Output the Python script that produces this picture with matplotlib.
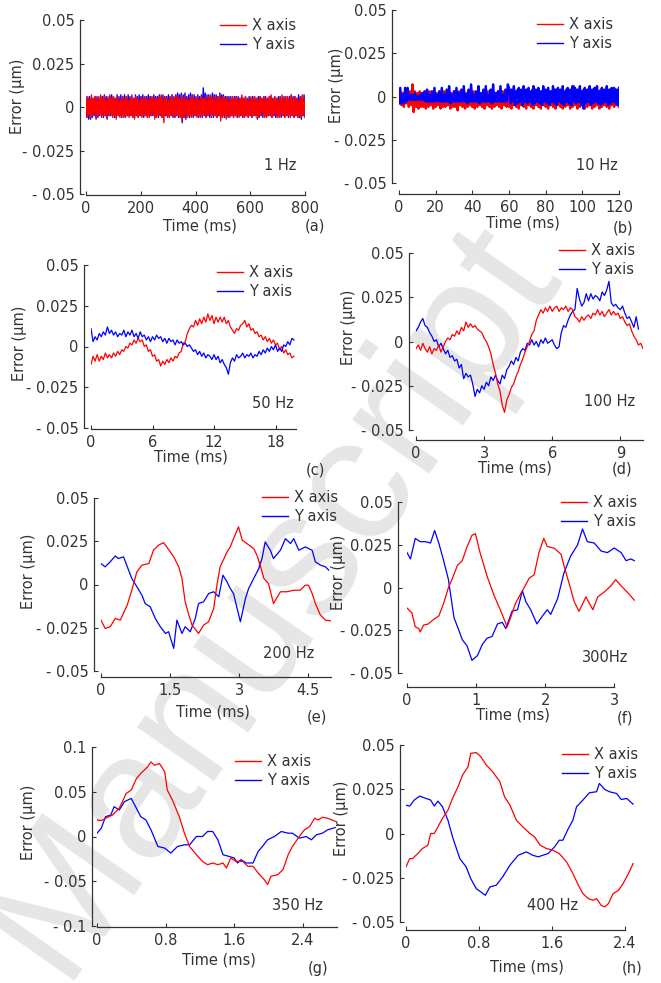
import numpy as np
import matplotlib
matplotlib.use('Agg')
import matplotlib.pyplot as plt

W, H = 661, 983
RED = '#ff0000'
BLUE = '#0000ff'
INK = '#333333'

plt.rcParams['font.family'] = 'DejaVu Sans'

# ---------------- data: errors in nm (1 nm = 0.001 um), times in ms ----------------
# (a) 1 Hz, 0-800 ms
X_1HZ = [5, -6, 6, -5, 4, -6, 7, -5, 5, -4, 6, -6, 5, -5, 6, -4, 7, -6, 5, -5,
         6, -5, 4, -6, 6, -5, 7, -4, 5, -6, 6, -5, 5, -7, 6, -5, 4, -6, 5, -5,
         6, -6, 5, -6, 6, -5, 4, -6, 5, -5, 7, -6, 5, -7, 6, -5, 5, -6, 4, -5,
         6, -6, 5, -5, 6, -5, 5, -6, 4, -6, 6, -5, 5, -4, 6, -7, 5, -6, 5, -5,
         6, -5, 7, -6, 5, -9, 6, -4, 5, -6, 4, -6, 6, -5, 7, -5, 5, -6, 6, -5,
         6, -5, 5, -6, 7, -8, 5, -6, 6, -5, 5, -6, 4, -5, 6, -6, 7, -5, 5, -5,
         5, -6, 6, -5, 4, -6, 7, -5, 5, -4, 6, -6, 5, -5, 6, -4, 7, -6, 5, -5,
         6, -5, 5, -6, 6, -5, 7, -8, 5, -6, 6, -5, 5, -7, 6, -5, 4, -6, 5, -5,
         6, -6, 5, -5, 6, -5, 4, -6, 5, -5, 7, -6, 5, -6, 6, -5, 5, -6, 4, -5,
         6, -6, 5, -5, 6, -5, 5, -6, 4, -6, 6, -5, 5, -4, 6, -6, 5, -6, 5, -5,
         6, -5, 7, -6, 5, -5, 6, -4, 5, -6, 4, -6, 6, -5, 7, -5, 5, -6, 6, -5,
         6, -5, 5, -6, 7, -5, 5, -6, 6, -5, 5, -6, 4, -5, 6, -6, 7, -5, 5, -5]
Y_1HZ = [6, -6, 5, -7, 6, -7, 5, -6, 5, -5, 6, -7, 6, -6, 5, -5, 6, -5, 6, -6,
         7, -5, 6, -7, 5, -5, 6, -5, 7, -5, 6, -6, 5, -6, 7, -5, 6, -5, 7, -6,
         6, -5, 7, -6, 6, -5, 7, -5, 6, -5, 6, -6, 5, -6, 7, -5, 6, -6, 7, -5,
         6, -5, 7, -6, 6, -5, 6, -6, 7, -5, 6, -5, 6, -5, 7, -6, 6, -5, 6, -6,
         7, -5, 6, -6, 7, -5, 6, -5, 6, -6, 7, -5, 6, -5, 7, -6, 6, -6, 7, -5,
         8, -6, 7, -6, 8, -9, 7, -6, 8, -7, 6, -5, 7, -6, 8, -5, 7, -6, 7, -5,
         6, -5, 7, -6, 6, -5, 7, -6, 11, -5, 8, -6, 7, -5, 7, -6, 6, -5, 8, -6,
         7, -5, 7, -6, 6, -5, 8, -6, 7, -5, 7, -6, 6, -5, 6, -6, 6, -5, 6, -5,
         5, -6, 6, -5, 6, -6, 6, -5, 5, -5, 6, -6, 5, -6, 6, -5, 5, -6, 6, -5,
         5, -6, 6, -5, 6, -5, 5, -7, 6, -6, 6, -5, 5, -6, 6, -5, 6, -6, 5, -5,
         6, -5, 6, -6, 5, -5, 6, -6, 5, -6, 6, -5, 6, -6, 5, -5, 6, -6, 6, -5,
         5, -6, 6, -5, 7, -5, 6, -6, 6, -5, 5, -6, 7, -6, 6, -7, 6, -5, 7, -6]
T_1HZ = np.linspace(0, 800, len(X_1HZ))

# (b) 10 Hz, 0-120 ms
X_10HZ = [-3, 3, -5, 2, -6, 3, -4, 4, -6, 3, -5, 7, -9, 3, -6, 2, -7, 3, -6, 2,
          -6, 3, -7, 2, -6, 3, -5, 2, -7, 3, -6, 2, -5, 3, -7, 2, -6, 3, -6, 2,
          -5, 3, -7, 2, -6, 3, -6, 2, -8, 3, -5, 2, -6, 3, -7, 2, -6, 3, -5, 2,
          -6, 3, -7, 2, -6, 3, -5, 2, -6, 3, -7, 2, -5, 3, -6, 2, -7, 3, -6, 2,
          -5, 3, -6, 2, -7, 3, -5, 2, -6, 3, -6, 2, -7, 3, -5, 2, -6, 4, -7, 3,
          -5, 2, -6, 3, -7, 2, -5, 3, -6, 4, -7, 2, -5, 3, -6, 2, -7, 3, -5, 4,
          -6, 3, -7, 2, -5, 3, -6, 4, -7, 2, -5, 3, -6, 3, -7, 2, -6, 4, -5, 3,
          -7, 2, -6, 6, -5, 3, -7, 2, -6, 3, -5, 4, -7, 2, -6, 3, -5, 2, -7, 3,
          -6, 2, -5, 3, -7, 4, -6, 2, -5, 3, -6, 2, -7, 3, -5, 2, -6, 4, -5, 3, -6]
Y_10HZ = [-4, 5, -4, 1, -4, 5, -3, 5, -2, 1, -2, 1, -2, 2,
          -2, 0, -2, 1, -2, 2, -2, 3, -3, 4,
          -3, 1, -3, 3, -3, 5,
          -3, 1, -3, 3, -3, 5, -3, 1, -3, 4, -3, 6, -4, 1, -3, 3, -3, 5,
          -3, 2, -3, 4, -3, 6, -3, 1, -4, 4, -3, 7, -3, 1, -3, 3, -3, 6,
          -4, 2, -3, 4, -3, 6, -3, 1, -3, 4, -4, 7, -3, 2, -3, 3, -3, 6,
          -3, 1, -3, 4, -3, 7,
          5, -4, 4, -3, 6, -5, 3, -4, 5, -3, 4, -5, 6, -3, 4, -4, 5, -3, 3, -5,
          6, -4, 4, -3, 5, -4, 3, -5, 6, -3, 4, -4, 5, -5, 3, -3, 6, -4, 4, -5,
          5, -3, 4, -4, 6, -5, 3, -3, 5, -4, 4, -5, 6, -3, 5, -4, 4, -3, 6, -5,
          3, -7, 5, -4, 4, -3, 6, -5, 4, -4, 5, -3, 6, -4, 3, -5, 5, -4, 4, -3,
          6, -5, 4, -4, 5, -3, 5, -4, 4, -5, 5]
T_10HZ = np.linspace(0, 120, len(X_10HZ))

# (c) 50 Hz, 0.2 ms sampling
X_50HZ = [-11, -6, -9, -5, -9, -6, -8, -4, -7, -5,
          -7, -4, -6, -3, -5, -2, -3, 0, -1, 2,
          1, 4, 2, 5, 3, 4, 0, 1, -3, -2,
          -6, -5, -9, -8, -12, -9, -11, -8, -10, -7,
          -9, -6, -7, -4, -3, 2, 3, 8, 11, 13,
          12, 16, 13, 17, 14, 18, 15, 20, 16, 19,
          14, 18, 15, 18, 15, 18, 14, 16, 12, 10,
          8, 11, 10, 13, 14, 16, 12, 14, 10, 11,
          8, 9, 6, 7, 4, 6, 3, 5, 2, 4,
          1, 2, -2, 0, -4, -2, -5, -4, -7, -6]
Y_50HZ = [11, 3, 6, 4, 8, 6, 9, 7, 12, 8,
          10, 7, 9, 6, 8, 7, 10, 6, 9, 7,
          10, 6, 8, 5, 9, 6, 7, 4, 6, 3,
          6, 4, 7, 5, 6, 3, 5, 2, 5, 3,
          4, 1, 4, 2, 3, 1, 2, 0, 1, -1,
          -3, -2, -5, -3, -6, -4, -7, -5, -6, -8,
          -5, -8, -6, -10, -8, -11, -13, -17, -10, -7,
          -9, -5, -7, -6, -4, -7, -5, -6, -4, -7,
          -5, -6, -3, -5, -2, -4, -1, -3, 0, -2,
          1, -3, -1, -3, 1, 0, 3, 1, 5, 4]
T_50HZ = np.arange(len(X_50HZ)) * 0.2

# (d) 100 Hz, 0.1 ms sampling
X_100HZ = [-4, -2, -5, -1, -4, -6, -3, -7, -4, -5,
           -2, -6, -3, 0, 2, 1, 4, 3, 6, 4,
           8, 6, 11, 8, 10, 8, 9, 7, 6, 5,
           2, 0, -3, -7, -13, -18, -24, -28, -36, -40,
           -33, -30, -26, -24, -20, -17, -13, -10, -6, -3,
           0, 4, 6, 12, 15, 18, 16, 19, 17, 20,
           17, 19, 20, 17, 19, 18, 20, 17, 19, 18,
           14, 13, 11, 14, 12, 14, 15, 13, 16, 15,
           18, 15, 17, 14, 16, 18, 15, 17, 15, 16,
           13, 14, 11, 9, 10, 6, 3, 1, -2, -1,
           -4]
Y_100HZ = [6, 8, 11, 13, 9, 8, 5, 3, 0, 1,
           -3, -1, -4, -7, -5, -9, -8, -11, -10, -15,
           -13, -21, -18, -20, -19, -24, -31, -27, -29, -25,
           -27, -23, -25, -20, -22, -19, -22, -24, -19, -21,
           -16, -14, -11, -13, -9, -11, -6, -4, -5, -1,
           -2, 1, -2, 0, -3, 1, -1, 2, -1, 0,
           1, -2, -4, -3, 5, 9, 8, 12, 15, 17,
           18, 30, 24, 20, 22, 27, 23, 27, 24, 26,
           25, 23, 28, 26, 29, 34, 22, 20, 21, 19,
           18, 20, 16, 13, 14, 11, 8, 14, 7]
TX_100HZ = np.arange(len(X_100HZ)) * 0.1
TY_100HZ = np.arange(len(Y_100HZ)) * 0.1

# (e) 200 Hz
TX_200HZ = [0, 0.09, 0.2, 0.31, 0.42, 0.57, 0.67, 0.78, 0.89, 1.04, 1.14, 1.25, 1.36, 1.43,
            1.58, 1.69, 1.76, 1.83, 1.91, 1.98, 2.12, 2.23, 2.34, 2.45, 2.52, 2.59, 2.74,
            2.81, 2.88, 2.99, 3.07, 3.17, 3.32, 3.39, 3.46, 3.54, 3.64, 3.75, 3.9, 4.04,
            4.19, 4.33, 4.44, 4.51, 4.59, 4.66, 4.77, 4.88, 4.99]
X_200HZ = [-20.6, -25.4, -24.4, -19.6, -20.6, -11.9, -3.3, 7.3, 11.2, 12.1, 19.8, 22.7, 24.2,
           21.7, 16, 10.2, 3.5, -10, -17.7, -23.5, -28.3, -23.5, -21.5, -13.8, -0.4, 10.2,
           18.8, 21.7, 26.5, 33.3, 25.6, 23.7, 20.8, 16.9, 11.2, 3.5, 0.6, -11, -4.2, -4.2,
           -3.3, -3.3, -0.4, -0.4, -5.2, -11, -17.7, -20.6, -21]
TY_200HZ = [0, 0.09, 0.2, 0.31, 0.38, 0.49, 0.6, 0.67, 0.78, 0.89, 0.96, 1.07, 1.18, 1.29,
            1.4, 1.47, 1.58, 1.65, 1.76, 1.83, 1.94, 2.05, 2.12, 2.23, 2.34, 2.45, 2.56,
            2.65, 2.74, 2.81, 2.88, 3.03, 3.14, 3.21, 3.32, 3.43, 3.5, 3.57, 3.68, 3.75,
            3.9, 4.01, 4.12, 4.19, 4.3, 4.44, 4.59, 4.66, 4.77, 4.88, 4.95]
Y_200HZ = [12.1, 10.2, 13.1, 16.5, 15, 16, 8.3, 3.5, -1.3, -6.2, -11, -12.9, -19.6, -24.4,
           -28.3, -27.3, -36.9, -20.6, -28.3, -24.4, -27.3, -19.6, -11, -10, -5.2, -4.2,
           -7.1, 5.4, 1.5, -2.3, -5.2, -21.5, -8.1, -2.3, 3.5, 9.2, 15, 24.6, 19.8, 15,
           19.8, 26.5, 23.7, 26.5, 19.8, 21.7, 19.8, 13.1, 11.2, 10.2, 8.3]

# (f) 300 Hz
TX_300HZ = [0, 0.07, 0.12, 0.17, 0.19, 0.24, 0.31, 0.39, 0.46, 0.53, 0.6, 0.65, 0.73, 0.8,
            0.87, 0.94, 0.99, 1.06, 1.16, 1.26, 1.35, 1.45, 1.5, 1.57, 1.67, 1.77, 1.84,
            1.91, 1.98, 2.03, 2.13, 2.23, 2.27, 2.35, 2.42, 2.49, 2.59, 2.69, 2.76, 2.85,
            2.95, 3.02, 3.1, 3.19, 3.29]
X_300HZ = [-12, -14.8, -23, -24, -26, -22, -21.3, -18.5, -16.7, -9.3, 0, 4.6, 13, 15.7, 24,
           30.5, 31.5, 20, 6.5, -4.6, -13, -23, -17.6, -9.3, -1.9, 5.5, 7.4, 20.4, 28.7,
           24, 23, 19.4, 13, 1.9, -8.3, -13.9, -5.5, -13, -5.5, -2.8, 0.9, 4.6, 0.9, -2.8,
           -7.4]
TY_300HZ = [0, 0.05, 0.12, 0.19, 0.27, 0.34, 0.4, 0.46, 0.53, 0.6, 0.68, 0.75, 0.8, 0.87,
            0.94, 1.02, 1.09, 1.16, 1.23, 1.31, 1.38, 1.43, 1.52, 1.6, 1.67, 1.72, 1.79,
            1.88, 1.96, 2.03, 2.08, 2.18, 2.27, 2.37, 2.47, 2.54, 2.61, 2.71, 2.81, 2.9,
            3.0, 3.1, 3.17, 3.24, 3.29]
Y_300HZ = [20.4, 16.7, 28.7, 26.8, 26.8, 26, 33.3, 26, 15.7, 4.6, -17.6, -25, -30.5, -34.2,
           -42.6, -39.8, -33.3, -29.6, -28.7, -21.3, -20.4, -24, -13.9, -13, -1.9, -8.3,
           -13, -21.3, -16.7, -13, -15.7, -6.5, 8.3, 18.5, 25, 34.2, 26.8, 26, 21.3, 20.4,
           23.1, 20.4, 15.7, 16.7, 15.7]

# (g) 350 Hz
TX_350HZ = [0, 0.05, 0.1, 0.18, 0.26, 0.34, 0.4, 0.46, 0.51, 0.59, 0.63, 0.67, 0.73, 0.79,
            0.82, 0.88, 0.96, 1.02, 1.08, 1.16, 1.23, 1.29, 1.35, 1.41, 1.47, 1.51, 1.56,
            1.62, 1.7, 1.76, 1.82, 1.88, 1.95, 1.99, 2.03, 2.11, 2.17, 2.23, 2.28, 2.36,
            2.42, 2.48, 2.54, 2.58, 2.63, 2.69, 2.78]
X_350HZ = [18.5, 17.8, 20.4, 24, 31.5, 48, 52, 64.8, 70.4, 77.8, 83.3, 79.6, 81.5, 72.2,
           51.9, 40.7, 22.2, 3.7, -11.1, -20.4, -27.8, -31.5, -29.6, -31.5, -29.6, -35.2,
           -24, -27.8, -27.8, -33.3, -33.3, -40.7, -48.1, -53.7, -44.4, -42.6, -37, -20.4,
           -11.1, 0, 7.4, 11.1, 20.4, 18.5, 21.5, 20.4, 17]
TY_350HZ = [0, 0.05, 0.1, 0.16, 0.2, 0.26, 0.32, 0.4, 0.46, 0.51, 0.57, 0.63, 0.71, 0.79,
            0.86, 0.94, 1.02, 1.08, 1.16, 1.23, 1.29, 1.35, 1.41, 1.47, 1.54, 1.6, 1.64,
            1.68, 1.74, 1.82, 1.88, 1.93, 1.99, 2.07, 2.15, 2.23, 2.28, 2.36, 2.44, 2.5,
            2.56, 2.63, 2.69, 2.78]
Y_350HZ = [3.7, 9.3, 22.2, 24, 33.3, 29.6, 38.9, 42.6, 31.5, 22.2, 18.5, 7.4, -11.1, -13,
           -18.5, -11.1, -9.3, -9.3, 0, 0, 5.6, 5.6, -3.7, -20.4, -22.2, -24, -29.6, -25.9,
           -29.6, -29.6, -16.7, -11.1, -3.7, 0, 5.6, 3.7, 3.7, -1.9, 0, -3.7, 1.9, 3.7,
           7.4, 10]

# (h) 400 Hz
TX_400HZ = [0, 0.04, 0.07, 0.13, 0.18, 0.24, 0.27, 0.31, 0.35, 0.4, 0.46, 0.51, 0.57, 0.62,
            0.68, 0.71, 0.77, 0.82, 0.88, 0.95, 1.03, 1.08, 1.14, 1.21, 1.28, 1.36, 1.41,
            1.47, 1.54, 1.61, 1.68, 1.76, 1.83, 1.89, 1.94, 2.0, 2.05, 2.09, 2.14, 2.18,
            2.22, 2.27, 2.33, 2.38, 2.44, 2.49]
X_400HZ = [-18.9, -14.2, -14.2, -11.3, -8.5, -6.6, 0, 0, 3.8, 8.5, 13.2, 19.8, 26.4, 33,
           37.7, 45.3, 45.7, 43.4, 38.7, 34.9, 29.2, 20.8, 16, 7.5, 3.8, 0, -1.9, -6.6,
           -8.5, -9.4, -11.3, -16, -22.6, -29.2, -34, -36.8, -37.7, -36.8, -40.6, -41.5,
           -39.6, -34, -32.1, -28.3, -22.6, -17]
TY_400HZ = [0, 0.04, 0.09, 0.15, 0.22, 0.27, 0.31, 0.35, 0.4, 0.46, 0.51, 0.59, 0.66, 0.71,
            0.77, 0.82, 0.87, 0.92, 0.99, 1.06, 1.14, 1.23, 1.32, 1.39, 1.45, 1.5, 1.56,
            1.63, 1.68, 1.72, 1.78, 1.83, 1.87, 1.94, 2.01, 2.09, 2.12, 2.18, 2.23, 2.31,
            2.36, 2.42, 2.49]
Y_400HZ = [16, 15.5, 18.9, 21.1, 19.8, 18.9, 15.5, 18.3, 15.1, 7.5, -1.9, -14.2, -18.9,
           -25.5, -31.1, -33, -34.9, -30.2, -29.2, -24.5, -17.9, -12.3, -10.4, -12.3, -13.2,
           -12.3, -11.3, -7.5, -3.8, -3.8, 2.8, 7.5, 15.1, 18.9, 23, 23.6, 28.3, 24.9, 23.6,
           22.6, 19.2, 19.8, 16.6]

FREQS = ['1 Hz', '10 Hz', '50 Hz', '100 Hz', '200 Hz', '300Hz', '350 Hz', '400 Hz']
TAGS = ['(a)', '(b)', '(c)', '(d)', '(e)', '(f)', '(g)', '(h)']
SERIES = [
    (T_1HZ, X_1HZ, T_1HZ, Y_1HZ),
    (T_10HZ, X_10HZ, T_10HZ, Y_10HZ),
    (T_50HZ, X_50HZ, T_50HZ, Y_50HZ),
    (TX_100HZ, X_100HZ, TY_100HZ, Y_100HZ),
    (TX_200HZ, X_200HZ, TY_200HZ, Y_200HZ),
    (TX_300HZ, X_300HZ, TY_300HZ, Y_300HZ),
    (TX_350HZ, X_350HZ, TY_350HZ, Y_350HZ),
    (TX_400HZ, X_400HZ, TY_400HZ, Y_400HZ),
]
XTICKS = [
    (['0', '200', '400', '600', '800'], [0, 200, 400, 600, 800]),
    (['0', '20', '40', '60', '80', '100', '120'], [0, 20, 40, 60, 80, 100, 120]),
    (['0', '6', '12', '18'], [0, 6, 12, 18]),
    (['0', '3', '6', '9'], [0, 3, 6, 9]),
    (['0', '1.5', '3', '4.5'], [0, 1.5, 3, 4.5]),
    (['0', '1', '2', '3'], [0, 1, 2, 3]),
    (['0', '0.8', '1.6', '2.4'], [0, 0.8, 1.6, 2.4]),
    (['0', '0.8', '1.6', '2.4'], [0, 0.8, 1.6, 2.4]),
]
YT_05 = ([-0.05, -0.025, 0, 0.025, 0.05], ['- 0.05', '- 0.025', '0', '0.025', '0.05'])
YT_10 = ([-0.1, -0.05, 0, 0.05, 0.1], ['- 0.1', '- 0.05', '0', '0.05', '0.1'])
YTICKS = [YT_05] * 6 + [YT_10, YT_05]

# ---------------- layout (pixels in the 661x983 canvas) ----------------
# box = x of xmin, x of xmax, y of ymax, y of ymin
LAYOUT = [
    dict(box=(86, 305, 20, 194), xlim=(0, 800), xb=(0, 800), yoff=6, xoff=1, lw=1.0,
         leg=(220, 26), ylab=(18, 96), xlab=(200, 226), tag=(315, 226), freq=(280, 166), x_on_top=True),
    dict(box=(399, 619, 10, 183), xlim=(0, 120), xb=(0, 120), yoff=7, xoff=11, lw=1.7,
         leg=(537, 25), ylab=(336, 85), xlab=(523, 223), tag=(623, 228), freq=(597, 165), x_on_top=False),
    dict(box=(91, 296, 265, 428), xlim=(0, 20), xb=(0, 20), yoff=7, xoff=1, lw=0.9,
         leg=(217, 273), ylab=(20, 343), xlab=(191, 457), tag=(315, 470), freq=(273, 403), x_on_top=False),
    dict(box=(416, 643, 253, 430), xlim=(0, 10), xb=(0, 10), yoff=7, xoff=10, lw=0.9,
         leg=(559, 251), ylab=(348, 327), xlab=(515, 468), tag=(622, 469), freq=(610, 402), x_on_top=True),
    dict(box=(101, 331, 498, 671), xlim=(0, 5), xb=(0, 5), yoff=7, xoff=6, lw=0.9,
         leg=(262, 498), ylab=(28, 571), xlab=(213, 712), tag=(317, 717), freq=(289, 653), x_on_top=True),
    dict(box=(407, 635, 502, 673), xlim=(0, 3.3), xb=(0, 3), yoff=9, xoff=14, lw=0.9,
         leg=(561, 503), ylab=(338, 572), xlab=(513, 715), tag=(625, 718), freq=(605, 658), x_on_top=True),
    dict(box=(97, 337, 747, 926), xlim=(0, 2.8), xb=(0, 2.8), yoff=5, xoff=1, lw=0.9,
         leg=(235, 762), ylab=(28, 822), xlab=(219, 960), tag=(318, 969), freq=(297, 905), x_on_top=True),
    dict(box=(406, 634, 745, 922), xlim=(0, 2.5), xb=(0, 2.4), yoff=6, xoff=8, lw=0.9,
         leg=(562, 755), ylab=(342, 818), xlab=(527, 967), tag=(632, 968), freq=(553, 905), x_on_top=True),
]

FS = 10.5


def fx(x):
    return x / W


def fy(y):
    return 1 - y / H


fig = plt.figure(figsize=(W / 100, H / 100), dpi=100)
fig.patch.set_facecolor('white')

# watermark behind everything
fig.text(fx(272), fy(598), 'Manuscript', rotation=55, fontsize=128, color='#e6e6e6',
         ha='center', va='center', family='Liberation Sans', zorder=-5)

for i, lay in enumerate(LAYOUT):
    x0, x1, yt, yb = lay['box']
    ax = fig.add_axes([fx(x0), fy(yb), (x1 - x0) / W, (yb - yt) / H])
    ax.patch.set_alpha(0)

    tx, vx, ty, vy = SERIES[i]
    vx = np.asarray(vx) / 1000.0
    vy = np.asarray(vy) / 1000.0
    zx, zy = (3, 2) if lay['x_on_top'] else (2, 3)
    hx, = ax.plot(tx, vx, color=RED, lw=lay['lw'], zorder=zx)
    hy, = ax.plot(ty, vy, color=BLUE, lw=lay['lw'], zorder=zy)

    yticks, ylabels = YTICKS[i]
    xlabels, xticks = XTICKS[i]
    ax.set_xlim(*lay['xlim'])
    ax.set_ylim(yticks[0], yticks[-1])
    ax.set_xticks(xticks)
    ax.set_xticklabels(xlabels)
    ax.set_yticks(yticks)
    ax.set_yticklabels(ylabels)

    for s in ('top', 'right'):
        ax.spines[s].set_visible(False)
    ax.spines['left'].set_position(('outward', lay['yoff'] * 0.72))
    ax.spines['bottom'].set_position(('outward', lay['xoff'] * 0.72))
    ax.spines['bottom'].set_bounds(*lay['xb'])
    for s in ('left', 'bottom'):
        ax.spines[s].set_color(INK)
        ax.spines[s].set_linewidth(0.9)
    ax.tick_params(direction='in', length=3, width=0.8, color=INK, labelcolor=INK,
                   labelsize=FS, pad=4)

    lx, ly = lay['leg']
    ax.legend([hx, hy], ['X axis', 'Y axis'], loc='upper left',
              bbox_to_anchor=(fx(lx), fy(ly - 8)), bbox_transform=fig.transFigure,
              frameon=False, fontsize=FS, handlelength=1.75, handletextpad=0.45,
              labelspacing=0.3, borderpad=0, borderaxespad=0, labelcolor=INK)
    for h in ax.get_legend().legend_handles:
        h.set_linewidth(1.0)

    fig.text(fx(lay['ylab'][0]), fy(lay['ylab'][1]), 'Error (\u00b5m)', rotation=90,
             ha='center', va='center', fontsize=FS, color=INK)
    fig.text(fx(lay['xlab'][0]), fy(lay['xlab'][1]), 'Time (ms)',
             ha='center', va='center', fontsize=FS, color=INK)
    fig.text(fx(lay['tag'][0]), fy(lay['tag'][1]), TAGS[i],
             ha='center', va='center', fontsize=FS, color=INK)
    fig.text(fx(lay['freq'][0]), fy(lay['freq'][1]), FREQS[i],
             ha='center', va='center', fontsize=FS, color=INK)

fig.savefig('out.png', dpi=100)
